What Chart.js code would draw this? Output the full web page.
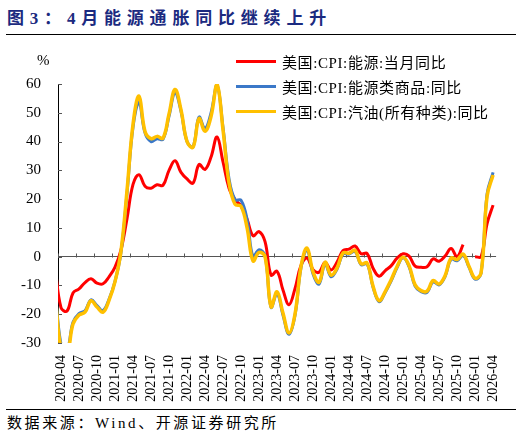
<!DOCTYPE html>
<html>
<head>
<meta charset="utf-8">
<script src="https://cdn.jsdelivr.net/npm/chart.js@4.4.1/dist/chart.umd.min.js"></script>
<style>
  html, body { margin: 0; padding: 0; background: #fff; }
  body {
    width: 522px; height: 435px; position: relative; overflow: hidden;
    font-family: "Liberation Serif", "Noto Sans CJK SC", serif; color: #000;
  }
  #title {
    position: absolute; left: 7px; top: 4px; font-size: 17px; font-weight: bold;
    color: #1B2A80; letter-spacing: 5.8px; white-space: nowrap;
  }
  .rule { position: absolute; left: 6px; width: 510px; height: 1px; background: #000; }
  #wrap { position: absolute; left: 0; top: 0; width: 522px; height: 408px; }
  #unit { position: absolute; left: 37px; top: 52px; font-size: 15px; }
  #legend { position: absolute; left: 236px; top: 49px; }
  .item { display: flex; align-items: center; height: 25px; font-size: 15px; letter-spacing: 0.6px; white-space: nowrap; }
  .swatch { width: 40px; height: 3.5px; margin-right: 6px; }
  #source { position: absolute; left: 7px; top: 411px; font-size: 15px; letter-spacing: 2.6px; white-space: nowrap; }
</style>
</head>
<body>
<div id="title">图3：4月能源通胀同比继续上升</div>
<div class="rule" style="top:34px"></div>
<div id="wrap"><canvas id="chart" width="522" height="408"></canvas></div>
<div id="unit">%</div>
<div id="legend"></div>
<div class="rule" style="top:409px"></div>
<div id="source">数据来源：Wind、开源证券研究所</div>

<script>
// months shown on the axis (2020-03 only feeds the line that enters from the left edge)
const months = [
  '2020-03', '2020-04', '2020-05', '2020-06', '2020-07', '2020-08', '2020-09', '2020-10', '2020-11', '2020-12',
  '2021-01', '2021-02', '2021-03', '2021-04', '2021-05', '2021-06', '2021-07', '2021-08', '2021-09', '2021-10', '2021-11', '2021-12',
  '2022-01', '2022-02', '2022-03', '2022-04', '2022-05', '2022-06', '2022-07', '2022-08', '2022-09', '2022-10', '2022-11', '2022-12',
  '2023-01', '2023-02', '2023-03', '2023-04', '2023-05', '2023-06', '2023-07', '2023-08', '2023-09', '2023-10', '2023-11', '2023-12',
  '2024-01', '2024-02', '2024-03', '2024-04', '2024-05', '2024-06', '2024-07', '2024-08', '2024-09', '2024-10', '2024-11', '2024-12',
  '2025-01', '2025-02', '2025-03', '2025-04', '2025-05', '2025-06', '2025-07', '2025-08', '2025-09', '2025-10', '2025-11', '2025-12',
  '2026-01', '2026-02', '2026-03', '2026-04'
];

const tickLabels = [
  '2020-04', '2020-07', '2020-10', '2021-01', '2021-04', '2021-07', '2021-10',
  '2022-01', '2022-04', '2022-07', '2022-10', '2023-01', '2023-04', '2023-07', '2023-10',
  '2024-01', '2024-04', '2024-07', '2024-10', '2025-01', '2025-04', '2025-07', '2025-10',
  '2026-01', '2026-04'
];

// 美国:CPI:能源:当月同比
const energy = [
  -3, -17.7, -18.9, -12.6, -11.2, -9.0, -7.7, -9.2, -9.4, -7.0,
  -3.6, 2.4, 13.2, 25.1, 28.5, 24.5, 23.8, 25.0, 24.8, 30.0, 33.3, 29.3,
  27.0, 25.6, 32.0, 30.3, 34.6, 41.6, 32.9, 23.8, 19.8, 17.6, 13.1, 7.3,
  8.7, 5.2, -6.4, -5.1, -11.7, -16.7, -11.0, -3.0, -0.5, -4.5, -5.4, -2.0,
  -4.6, -1.9, 2.1, 2.6, 3.7, 1.0, 1.1, -4.0, -6.8, -4.9, -3.2, -0.5,
  1.0, 0.2, -3.3, -3.7, -3.5, -0.8, -1.6, 0.2, 2.8, 0, 4.2, null,
  0, 0, 11.5, 17.9
];

// 美国:CPI:能源类商品:同比
const energyGoods = [
  -10, -30.5, -32.5, -22.8, -19.8, -18.8, -15.0, -17.0, -18.7, -14.8,
  -8.6, 1.5, 22.0, 45.0, 53.5, 43.0, 40.0, 41.0, 40.8, 48.8, 57.0, 50.5,
  40.0, 38.2, 48.5, 44.5, 50.0, 59.6, 44.8, 27.0, 19.8, 19.6, 13.0, 0.0,
  2.4, 0.3, -17.6, -12.8, -20.4, -27.0, -20.3, -3.8, 2.3, -6.0, -9.5, -2.5,
  -7.0, -4.3, 0.9, 0.9, 1.8, -2.8, -2.5, -10.6, -15.6, -12.5, -8.5, -3.8,
  -0.4, -3.5, -10.2, -12.2, -12.4, -8.7, -9.8, -6.9, -0.9, -1.4, 0.4, -3.7,
  -7.8, -5.8, 21.8, 29.3
];

// 美国:CPI:汽油(所有种类):同比
const gasoline = [
  -12, -32.0, -33.8, -23.4, -20.3, -19.3, -15.3, -17.5, -19.3, -15.2,
  -8.7, 2.0, 23.0, 46.0, 55.8, 43.5, 41.0, 41.8, 41.2, 49.6, 58.1, 51.0,
  40.0, 38.0, 48.0, 43.6, 48.7, 59.9, 44.0, 25.6, 18.2, 17.5, 10.1, -1.5,
  1.5, 0.0, -17.4, -12.2, -19.7, -26.5, -19.9, -3.3, 3.0, -5.3, -8.9, -1.9,
  -6.4, -3.9, 1.3, 1.2, 2.2, -2.5, -2.2, -10.3, -15.3, -12.2, -8.1, -3.4,
  -0.2, -3.1, -9.8, -11.8, -12.0, -8.3, -9.5, -6.6, -0.5, -1.0, 0.9, -3.4,
  -7.5, -5.6, 21.0, 28.4
];

const seriesNames = ['美国:CPI:能源:当月同比', '美国:CPI:能源类商品:同比', '美国:CPI:汽油(所有种类):同比'];
const seriesColors = ['#FF0000', '#3B78C8', '#FFC000'];

const yTicks = [-30, -20, -10, 0, 10, 20, 30, 40, 50, 60];

const toPoints = values => values.map((v, i) => ({ x: i, y: v }));

// tick marks sit on the zero line, between months; y ticks point inward
const axisMarks = {
  id: 'axisMarks',
  beforeDatasetsDraw(chart) {
    const { ctx, scales: { x, y } } = chart;
    const y0 = Math.round(y.getPixelForValue(0)) + 0.5;
    ctx.save();
    ctx.strokeStyle = '#555';
    ctx.lineWidth = 1;
    ctx.beginPath();
    tickLabels.forEach(label => {
      const px = Math.round(x.getPixelForValue(months.indexOf(label) - 0.5)) + 0.5;
      ctx.moveTo(px, y0);
      ctx.lineTo(px, y0 - 4);
    });
    yTicks.forEach(v => {
      const py = Math.round(y.getPixelForValue(v)) + 0.5;
      ctx.moveTo(x.left, py);
      ctx.lineTo(x.left + 4, py);
    });
    ctx.stroke();
    ctx.restore();
  }
};

const seriesData = [energy, energyGoods, gasoline];
const widths = [3, 3, 3.5];

new Chart(document.getElementById('chart'), {
  type: 'line',
  data: {
    datasets: seriesData.map((values, i) => ({
      label: seriesNames[i],
      data: toPoints(values),
      borderColor: seriesColors[i],
      backgroundColor: seriesColors[i],
      borderWidth: widths[i],
      pointRadius: 0,
      tension: 0.4,
      spanGaps: false,
      order: 3 - i
    }))
  },
  options: {
    responsive: false,
    animation: false,
    layout: { padding: { top: 84, right: 17, bottom: 0, left: 0 } },
    plugins: { legend: { display: false }, tooltip: { enabled: false } },
    scales: {
      x: {
        type: 'linear',
        min: 0.5,
        max: months.length - 0.5,
        afterBuildTicks: scale => {
          scale.ticks = tickLabels.map(l => ({ value: months.indexOf(l) }));
        },
        afterFit: scale => { scale.height = 65; },
        grid: { display: false, drawTicks: false },
        border: { display: false },
        ticks: {
          autoSkip: false,
          minRotation: 90,
          maxRotation: 90,
          padding: 12,
          color: '#000',
          font: { family: '"Liberation Serif", serif', size: 14 },
          callback: v => months[v]
        }
      },
      y: {
        min: -30,
        max: 60,
        afterBuildTicks: scale => {
          scale.ticks = yTicks.map(v => ({ value: v }));
        },
        afterFit: scale => { scale.width = 58; },
        grid: {
          drawTicks: false,
          color: c => (c.tick && c.tick.value === 0 ? '#555' : 'rgba(0,0,0,0)'),
          lineWidth: 1
        },
        border: { display: true, color: '#000', width: 1 },
        ticks: {
          padding: 17,
          color: '#000',
          font: { family: '"Liberation Serif", serif', size: 15 }
        }
      }
    }
  },
  plugins: [axisMarks]
});

// legend box laid over the top right of the plot
const legend = document.getElementById('legend');
seriesNames.forEach((name, i) => {
  const row = document.createElement('div');
  row.className = 'item';
  const sw = document.createElement('span');
  sw.className = 'swatch';
  sw.style.background = seriesColors[i];
  const txt = document.createElement('span');
  txt.textContent = name;
  row.appendChild(sw);
  row.appendChild(txt);
  legend.appendChild(row);
});
</script>
</body>
</html>
